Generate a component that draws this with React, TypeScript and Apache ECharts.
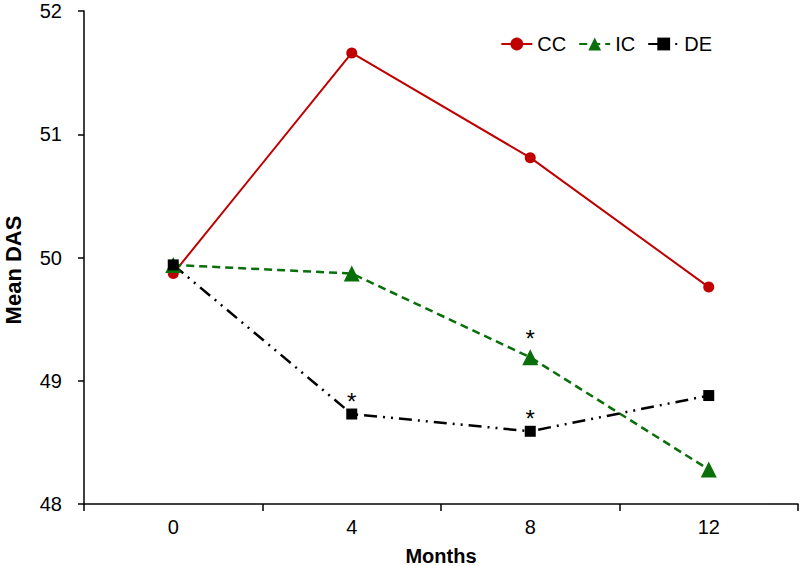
import React, { useEffect, useRef } from "react";
import * as echarts from "echarts";

const months = ["0", "4", "8", "12"];
const ccValues = [49.87, 51.66, 50.81, 49.76];
const icValues = [49.94, 49.87, 49.19, 48.28];
const deValues = [49.94, 48.73, 48.59, 48.88];
// significance markers per point ("*" shown above)
const icStars = [false, false, true, false];
const deStars = [false, true, true, false];
const yTicks = [48, 49, 50, 51, 52];

const FONT = "Liberation Sans, Arial, sans-serif";

function withStars(values: number[], stars: boolean[], distance: number) {
  return values.map((v, i) =>
    stars[i]
      ? {
          value: v,
          label: {
            show: true,
            formatter: "*",
            position: "top",
            distance,
            color: "#000",
            fontSize: 24,
            fontFamily: FONT,
          },
        }
      : v
  );
}

export default function App() {
  const ref = useRef<HTMLDivElement>(null);
  useEffect(() => {
    if (!ref.current) return;
    const chart = echarts.init(ref.current, undefined, { renderer: "svg" });
    chart.setOption({
      animation: false,
      backgroundColor: "#fff",
      textStyle: { fontFamily: FONT },
      grid: { left: 84, right: 2, top: 11, bottom: 62, containLabel: false, outerBoundsMode: "none" },
      legend: {
        top: 29,
        right: 83,
        itemWidth: 31,
        itemHeight: 16,
        itemGap: 12,
        textStyle: { fontSize: 20, color: "#000", fontFamily: FONT },
        data: ["CC", "IC", "DE"],
      },
      xAxis: {
        type: "category",
        data: months,
        boundaryGap: true,
        name: "Months",
        nameLocation: "middle",
        nameGap: 42,
        nameMoveOverlap: false,
        nameTextStyle: { fontSize: 20, fontWeight: "bold", color: "#000", fontFamily: FONT },
        axisLine: { lineStyle: { color: "#000", width: 1.5 } },
        axisTick: { show: true, length: 7, lineStyle: { color: "#000", width: 1.5 } },
        axisLabel: { fontSize: 20, color: "#000", margin: 13, fontFamily: FONT },
        splitLine: { show: false },
      },
      yAxis: {
        type: "value",
        min: yTicks[0],
        max: yTicks[yTicks.length - 1],
        interval: 1,
        name: "Mean DAS",
        nameLocation: "middle",
        nameGap: 60,
        nameMoveOverlap: false,
        nameTextStyle: {
          fontSize: 22,
          fontWeight: "bold",
          color: "#000",
          fontFamily: FONT,
          padding: [0, 25, 0, 0],
        },
        axisLine: { show: true, lineStyle: { color: "#000", width: 1.5 } },
        axisTick: { show: true, length: 6, lineStyle: { color: "#000", width: 1.5 } },
        axisLabel: { fontSize: 20, color: "#000", margin: 22, fontFamily: FONT },
        splitLine: { show: false },
      },
      series: [
        {
          name: "CC",
          type: "line",
          data: ccValues,
          symbol: "circle",
          symbolSize: 11,
          itemStyle: { color: "#c00000" },
          lineStyle: { color: "#c00000", width: 2 },
        },
        {
          name: "IC",
          type: "line",
          data: withStars(icValues, icStars, -1),
          symbol: "triangle",
          symbolSize: 16,
          itemStyle: { color: "#0a6e0a" },
          lineStyle: { color: "#0a6e0a", width: 2.5, type: [8, 5] },
        },
        {
          name: "DE",
          type: "line",
          data: withStars(deValues, deStars, -5),
          symbol: "rect",
          symbolSize: 11,
          itemStyle: { color: "#000" },
          lineStyle: { color: "#000", width: 2.5, type: [13, 6, 2, 6, 2, 6] },
        },
      ],
    });
    return () => chart.dispose();
  }, []);
  return <div ref={ref} style={{ width: 800, height: 566, position: "absolute", left: 0, top: 0 }} />;
}
